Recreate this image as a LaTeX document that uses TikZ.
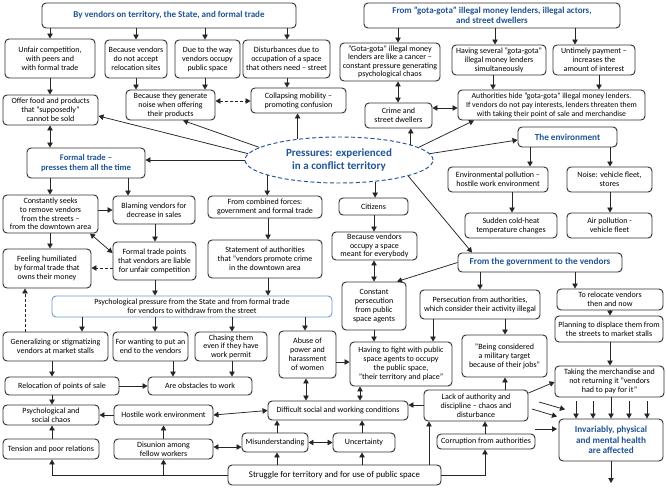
\documentclass[tikz,border=0pt]{standalone}
\usepackage{fontspec}
\setmainfont{Carlito}
\usetikzlibrary{arrows.meta,shapes.geometric}
\definecolor{hblue}{RGB}{31,84,150}
\definecolor{edge}{RGB}{50,50,50}
\definecolor{lblue}{RGB}{110,155,210}
\begin{document}
\begin{tikzpicture}[x=1pt,y=-1pt,
 box/.style={draw=edge, line width=0.95pt, rounded corners=4pt, align=center, inner sep=1pt, font={\fontsize{8}{9}\selectfont}, text=black},
 hbox/.style={box, font={\fontsize{9}{10.5}\selectfont\bfseries}, text=hblue},
 arr/.style={draw=black!85, line width=0.75pt, -{Triangle[length=5pt,width=5.5pt]}},
 barr/.style={arr, {Triangle[length=5pt,width=5.5pt]}-{Triangle[length=5pt,width=5.5pt]}},
 darr/.style={arr, dash pattern=on 3pt off 2pt},
 dbarr/.style={barr, dash pattern=on 3pt off 2pt},
]
\useasboundingbox[fill=white] (0,0) rectangle (666,487);

% ---------- top headers ----------
\node[hbox, minimum width=254pt, minimum height=25pt] (h1) at (169,15.5) {By vendors on territory, the State, and formal trade};
\node[hbox, minimum width=256pt, minimum height=25pt, font={\fontsize{9}{10}\selectfont\bfseries}] (h2) at (492,15.5) {From "gota-gota" illegal money lenders, illegal actors,\\and street dwellers};

% ---------- row 2 ----------
\node[box, minimum width=90pt, minimum height=39pt] (unfair) at (50,58.5) {Unfair competition,\\with peers and\\with formal trade};
\node[box, minimum width=62pt, minimum height=38pt] (noaccept) at (136,59) {Because vendors\\do not accept\\relocation sites};
\node[box, minimum width=65pt, minimum height=38pt] (dueway) at (207.5,59) {Due to the way\\vendors occupy\\public space};
\node[box, minimum width=87pt, minimum height=38pt] (disturb) at (286.5,59) {Disturbances due to\\occupation of a space\\that others need – street};
\node[box, minimum width=100pt, minimum height=38pt, font={\fontsize{8}{8.3}\selectfont}] (cancer) at (390,62) {"Gota-gota" illegal money\\lenders are like a cancer –\\constant pressure generating\\psychological chaos};
\node[box, minimum width=94pt, minimum height=30pt] (several) at (499,60) {Having several "gota-gota"\\illegal money lenders\\simultaneously};
\node[box, minimum width=82pt, minimum height=30pt] (untimely) at (594,60) {Untimely payment –\\increases the\\amount of interest};

% ---------- row 3 ----------
\node[box, minimum width=95pt, minimum height=30pt] (offer) at (50.5,110) {Offer food and products\\that "supposedly"\\cannot be sold};
\node[box, minimum width=89pt, minimum height=30pt] (noise) at (170.5,105) {Because they generate\\noise when offering\\their products};
\node[box, minimum width=95pt, minimum height=25pt] (collapse) at (298.5,100.5) {Collapsing mobility –\\promoting confusion};
\node[box, minimum width=67pt, minimum height=25pt] (crime) at (398.5,115.5) {Crime and\\street dwellers};
\node[box, minimum width=187pt, minimum height=30pt, font={\fontsize{7.8}{9}\selectfont}] (authhide) at (551.5,105) {Authorities hide "gota-gota" illegal money lenders.\\If vendors do not pay interests, lenders threaten them\\with taking their point of sale and merchandise};

% ---------- centre ----------
\node[ellipse, draw=hblue, line width=0.95pt, dash pattern=on 4pt off 2.5pt, minimum width=188pt, minimum height=46pt, inner sep=0pt, align=center, text=hblue, font={\fontsize{11}{13.3}\selectfont\bfseries}] (ell) at (339,160) {Pressures: experienced\\in a conflict territory};

\node[hbox, minimum width=118pt, minimum height=30pt, font={\fontsize{8.6}{10.5}\selectfont\bfseries}] (formal) at (86,163) {Formal trade –\\presses them all the time};

% ---------- environment ----------
\node[hbox, minimum width=99pt, minimum height=20pt, font={\fontsize{9.2}{10}\selectfont\bfseries}] (env) at (567.5,137) {The environment};
\node[box, minimum width=100pt, minimum height=25pt] (envpoll) at (498,179.5) {Environmental pollution –\\hostile work environment};
\node[box, minimum width=85pt, minimum height=25pt] (noisefleet) at (609.5,179.5) {Noise: vehicle fleet,\\stores};
\node[box, minimum width=92pt, minimum height=25pt] (sudden) at (511,225.5) {Sudden cold-heat\\temperature changes};
\node[box, minimum width=85pt, minimum height=25pt] (airpoll) at (609.5,225.5) {Air pollution -\\vehicle fleet};

% ---------- middle ----------
\node[box, minimum width=95pt, minimum height=38pt, font={\fontsize{8}{8.6}\selectfont}] (seeks) at (50.5,214) {Constantly seeks\\to remove vendors\\from the streets –\\from the downtown area};
\node[box, minimum width=82pt, minimum height=28pt] (blaming) at (154,210) {Blaming vendors for\\decrease in sales};
\node[box, minimum width=114pt, minimum height=22pt] (combined) at (265,207) {From combined forces:\\government and formal trade};
\node[box, minimum width=69pt, minimum height=17pt] (citizens) at (373.5,206.5) {Citizens};
\node[box, minimum width=85pt, minimum height=28pt, font={\fontsize{8}{8.6}\selectfont}] (occupy) at (374.5,246) {Because vendors\\occupy a space\\meant for everybody};
\node[box, minimum width=114pt, minimum height=38pt] (statement) at (265,259) {Statement of authorities\\that "vendors promote crime\\in the downtown area};
\node[box, minimum width=83pt, minimum height=38pt] (ftpoints) at (154.5,261) {Formal trade points\\that vendors are liable\\for unfair competition};
\node[box, minimum width=88pt, minimum height=39pt] (humiliated) at (47,268.5) {Feeling humiliated\\by formal trade that\\owns their money};
\node[box, draw=lblue, minimum width=280pt, minimum height=21pt] (psych) at (192,306.5) {Psychological pressure from the State and from formal trade\\for vendors to withdraw from the street};
\node[box, minimum width=64pt, minimum height=48pt] (constpers) at (374,306) {Constant\\persecution\\from public\\space agents};
\node[box, minimum width=120pt, minimum height=29pt] (persauth) at (480,304.5) {Persecution from authorities,\\which consider their activity illegal};
\node[hbox, minimum width=164pt, minimum height=19pt, font={\fontsize{9.2}{10}\selectfont\bfseries}] (gov) at (540,262.5) {From the government to the vendors};
\node[box, minimum width=106pt, minimum height=21pt] (relocate) at (610,299.5) {To relocate vendors\\then and now};
\node[box, minimum width=108pt, minimum height=26pt] (planning) at (609,329) {Planning to displace them from\\the streets to market stalls};
\node[box, minimum width=85pt, minimum height=42pt] (military) at (504.5,356) {"Being considered\\a military target\\because of their jobs"};

% ---------- lower ----------
\node[box, minimum width=105pt, minimum height=29pt] (general) at (55.5,346.5) {Generalizing or stigmatizing\\vendors at market stalls};
\node[box, minimum width=75pt, minimum height=29pt] (wanting) at (150.5,346.5) {For wanting to put an\\end to the vendors};
\node[box, minimum width=72pt, minimum height=29pt, font={\fontsize{8}{8.6}\selectfont}] (chasing) at (231,346.5) {Chasing them\\even if they have\\work permit};
\node[box, minimum width=57pt, minimum height=47pt] (abuse) at (307.5,354.5) {Abuse of\\power and\\harassment\\of women};
\node[box, minimum width=102pt, minimum height=44pt] (fight) at (401,364) {Having to fight with public\\space agents to occupy\\the public space,\\"their territory and place"};
\node[box, minimum width=114pt, minimum height=18pt] (relocpts) at (62,386) {Relocation of points of sale};
\node[box, minimum width=104pt, minimum height=18pt] (obstacles) at (200,386) {Are obstacles to work};
\node[box, minimum width=96pt, minimum height=20pt, font={\fontsize{8}{8.6}\selectfont}] (psychchaos) at (51,415) {Psychological and\\social chaos};
\node[box, minimum width=99pt, minimum height=20pt] (hostile) at (163.5,415) {Hostile work environment};
\node[box, minimum width=96pt, minimum height=20pt] (tension) at (51,449) {Tension and poor relations};
\node[box, minimum width=99pt, minimum height=20pt, font={\fontsize{8}{8.6}\selectfont}] (disunion) at (163.5,449) {Disunion among\\fellow workers};
\node[box, minimum width=140pt, minimum height=19pt] (difficult) at (338,410.5) {Difficult social and working conditions};
\node[box, minimum width=66pt, minimum height=19pt] (misunder) at (275,442.5) {Misunderstanding};
\node[box, minimum width=62pt, minimum height=19pt] (uncert) at (364,442.5) {Uncertainty};
\node[box, minimum width=213pt, minimum height=20pt, font={\fontsize{8.8}{10}\selectfont}] (struggle) at (334.5,475) {Struggle for territory and for use of public space};
\node[box, minimum width=104pt, minimum height=31pt] (lack) at (476,405.5) {Lack of authority and\\discipline – chaos and\\disturbance};
\node[box, minimum width=98pt, minimum height=15pt] (corrupt) at (486,441.5) {Corruption from authorities};
\node[box, minimum width=109pt, minimum height=31pt] (taking) at (609.5,381.5) {Taking the merchandise and\\not returning it "vendors\\had to pay for it"};
\node[hbox, minimum width=104pt, minimum height=42pt, font={\fontsize{9.2}{10.3}\selectfont\bfseries}] (invar) at (611,440) {Invariably, physical\\and mental health\\are affected};

% ---------- connectors: top left ----------
\draw[arr] (h1.south -| 50,0) -- (unfair.north -| 50,0);
\draw[arr] (h1.south -| 136,0) -- (noaccept.north -| 136,0);
\draw[arr] (h1.south -| 205,0) -- (dueway.north -| 205,0);
\draw[arr] (h1.south -| 287,0) -- (disturb.north -| 287,0);
\draw[arr] (unfair.south -| 50,0) -- (offer.north -| 50,0);
\draw[arr] (noaccept.south -| 136,0) -- (noise.north -| 136,0);
\draw[arr] (dueway.south -| 205,0) -- (noise.north -| 205,0);
\draw[arr] (disturb.south -| 287,0) -- (collapse.north -| 287,0);
\draw[dbarr] (noise.east |- 0,101) -- (collapse.west |- 0,101);

% ---------- connectors: top right ----------
\draw[arr] (h2.south -| 398,0) -- (cancer.north -| 398,0);
\draw[arr] (h2.south -| 495,0) -- (several.north -| 495,0);
\draw[arr] (h2.south -| 575,0) -- (untimely.north -| 575,0);
\draw[barr] (cancer.south -| 398,0) -- (crime.north -| 398,0);
\draw[arr] (several.south -| 493,0) -- (authhide.north -| 493,0);
\draw[arr] (untimely.south -| 599,0) -- (authhide.north -| 599,0);
\draw[barr] (crime.east |- 0,108) -- (authhide.west |- 0,108);

% ---------- connectors from the ellipse ----------
\draw[arr] (ell.153) -- (collapse.south -| ell.153);
\draw[arr] (ell.12) -- (crime.south -| ell.12);
\draw[arr] (ell.192) -- (combined.north -| ell.192);
\draw[arr] (ell.329) -- (citizens.north -| ell.329);
\draw[arr] (ell.171) -- (noise.south -| 183,0);
\draw[arr] (ell.176) -- (offer.east |- 0,116);
\draw[arr] (ell.west) -- (formal.east |- ell.west);
\draw[arr] (ell.9) -- (authhide.south -| 474,0);
\draw[arr] (ell.4) -- (env.west |- 0,140);
\draw[arr] (ell.347) -- (gov.north -| 472,0);

% ---------- environment ----------
\draw[arr] (env.south -| 530,0) -- (envpoll.north -| 530,0);
\draw[arr] (env.south -| 610,0) -- (noisefleet.north -| 610,0);
\draw[arr] (envpoll.south -| 512,0) -- (sudden.north -| 512,0);
\draw[arr] (noisefleet.south -| 610,0) -- (airpoll.north -| 610,0);

% ---------- left middle ----------
\draw[barr] (offer.south -| 50,0) -- (formal.north -| 50,0);
\draw[arr] (formal.south -| 50,0) -- (seeks.north -| 50,0);
\draw[arr] (formal.south -| 128,0) -- (blaming.north -| 128,0);
\draw[arr] (seeks.east |- 0,210) -- (blaming.west |- 0,210);
\draw[arr] (blaming.south -| 155,0) -- (ftpoints.north -| 155,0);
\draw[barr] (ftpoints.west |- 0,253) -- (seeks.south -| 90,0);
\draw[darr] (ftpoints.west |- 0,268) -- (humiliated.east |- 0,268);
\draw[arr] (seeks.south -| 50,0) -- (humiliated.north -| 50,0);
\draw[arr] (ftpoints.south -| 155,0) -- (psych.north -| 155,0);
\draw[arr] (combined.south -| 268,0) -- (statement.north -| 268,0);
\draw[arr] (statement.south -| 268,0) -- (psych.north -| 268,0);
\draw[arr] (citizens.south -| 374,0) -- (occupy.north -| 374,0);
\draw[barr] (occupy.south -| 374,0) -- (constpers.north -| 374,0);
\draw[arr] (gov.west) -- (constpers.north -| 397,0);
\draw[arr] (gov.south -| 480,0) -- (persauth.north -| 480,0);
\draw[arr] (gov.south -| 575,0) -- (relocate.north -| 575,0);
\draw[arr] (persauth.south -| 505,0) -- (military.north -| 505,0);
\draw[arr] (constpers.south -| 374,0) -- (fight.north -| 374,0);
\draw[arr] (persauth.south -| 433,0) -- (fight.north -| 433,0);
\draw[arr] (relocate.south -| 610,0) -- (planning.north -| 610,0);
\draw[arr] (planning.south -| 610,0) -- (taking.north -| 610,0);

% ---------- psych pressure ----------
\draw[arr] (psych.south -| 82,0) -- (general.north -| 82,0);
\draw[arr] (psych.south -| 155,0) -- (wanting.north -| 155,0);
\draw[arr] (psych.south -| 232,0) -- (chasing.north -| 232,0);
\draw[arr] (psych.south -| 305,0) -- (abuse.north -| 305,0);
\draw[arr] (abuse.east |- 0,362) -- (fight.west |- 0,362);
\draw[darr] (general.north -| 25,0) -- (humiliated.south -| 25,0);
\draw[arr] (general.south -| 52,0) -- (relocpts.north -| 52,0);
\draw[arr] (wanting.south -| 173,0) -- (obstacles.north -| 173,0);
\draw[arr] (chasing.south -| 232,0) -- (obstacles.north -| 232,0);
\draw[arr] (relocpts.east) -- (obstacles.west);
\draw[arr] (relocpts.south -| 52,0) -- (psychchaos.north -| 52,0);
\draw[arr] (hostile.west) -- (psychchaos.east);
\draw[arr] (tension.north -| 52,0) -- (psychchaos.south -| 52,0);
\draw[arr] (disunion.north) -- (hostile.south);
\draw[barr] (hostile.east) -- (difficult.west);
\draw[barr] (disunion.east |- 0,447) -- (misunder.west |- 0,447);
\draw[barr] (misunder.east) -- (uncert.west);
\draw[arr] (misunder.north -| 277,0) -- (difficult.south -| 277,0);
\draw[arr] (uncert.north -| 362,0) -- (difficult.south -| 362,0);
\draw[barr] (abuse.south -| 306,0) -- (difficult.north -| 306,0);
\draw[barr] (fight.south -| 360,0) -- (difficult.north -| 360,0);
\draw[arr] (lack.west |- 0,405) -- (difficult.east |- 0,405);

% ---------- struggle ----------
\draw[arr] (struggle.north -| 277,0) -- (misunder.south -| 277,0);
\draw[arr] (struggle.north -| 362,0) -- (uncert.south -| 362,0);
\draw[arr] (struggle.north -| 429,0) -- (lack.south -| 429,0);
\draw[arr] (struggle.west) -| (tension.south -| 52,0);
\draw[arr] (disunion.south |- struggle.west) -- (disunion.south);
\draw[arr] (struggle.east) -| (corrupt.south -| 485,0);
\draw[arr] (corrupt.north -| 485,0) -- (lack.south -| 485,0);

% ---------- right bottom ----------
\draw[arr] (lack.north -| 505,0) -- (military.south -| 505,0);
\draw[arr] (lack.east |- 0,393) -- (taking.west |- 0,382);
\coordinate (fa1) at (539,402); \coordinate (fa2) at (565,409.5);
\coordinate (fb1) at (532,409); \coordinate (fb2) at (557,416.5);
\coordinate (fc1) at (535,429); \coordinate (fc2) at (557,429);
\draw[arr] (fa1) -- (fa2);
\draw[arr] (fb1) -- (fb2);
\draw[arr] (fc1) -- (fc2);
\foreach \xx in {576,593,629,647}{
  \draw[arr] (\xx,401) -- (invar.north -| \xx,0);
}
\draw[arr] (taking.south -| 611,0) -- (invar.north -| 611,0);
\coordinate (outend) at (611,483);
\draw[arr] (invar.south) -- (outend);
\end{tikzpicture}
\end{document}
